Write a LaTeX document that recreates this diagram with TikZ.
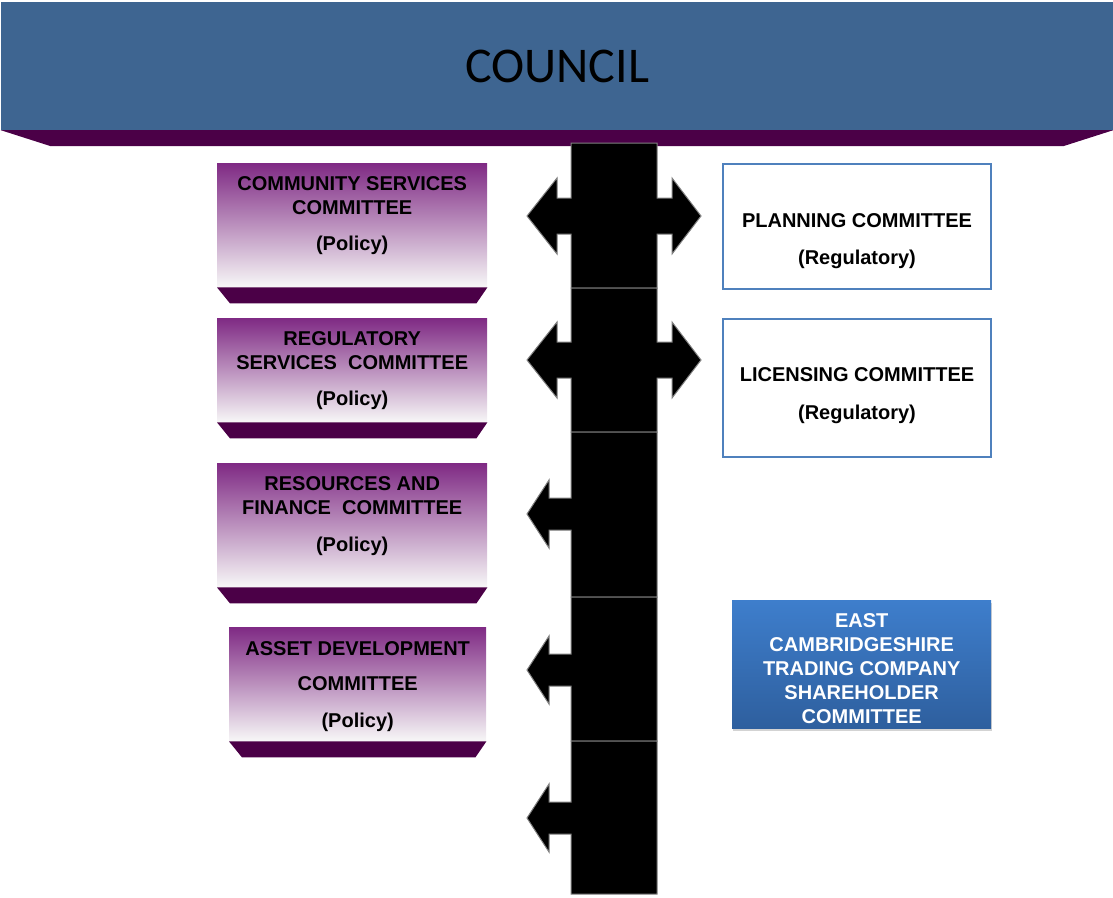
\documentclass[tikz,border=0pt]{standalone}
\usepackage{fontspec}
\setmainfont{Liberation Sans}
\newfontfamily\councilfont{Carlito}
\usepackage{tikz}
\usetikzlibrary{calc,shadows}
\definecolor{councilblue}{HTML}{3E6591}
\definecolor{plum}{HTML}{4B0047}
\definecolor{mauve}{HTML}{7F2A84}
\definecolor{lilac}{HTML}{D9CADB}
\definecolor{frame}{HTML}{4F81BD}
\definecolor{tradetop}{HTML}{3E7ECC}
\definecolor{tradebot}{HTML}{2E5F9E}
\definecolor{edge}{HTML}{808080}
\tikzset{
  council/.style={rectangle, fill=councilblue, inner sep=0pt, minimum width=1112pt, minimum height=128pt, font=\councilfont\fontsize{50}{60}\selectfont},
  band/.style={fill=plum},
  spine/.style={fill=black, draw=edge, line width=1pt, line join=miter},
  pbox/.style={rectangle, inner sep=0pt, anchor=north west, top color=mauve, middle color=lilac, bottom color=white!97!black, minimum width=270pt},
  rbox/.style={rectangle, draw=frame, line width=2pt, fill=white, inner sep=0pt, anchor=north west, minimum width=268pt},
  tbox/.style={rectangle, inner sep=0pt, anchor=north west, top color=tradetop, bottom color=tradebot, minimum width=259pt, minimum height=128pt, drop shadow={shadow xshift=1pt, shadow yshift=-3pt, opacity=0.35}},
  lab/.style={font=\fontsize{20}{24}\selectfont\bfseries, align=center, inner sep=0pt, anchor=north},
}
\begin{document}
\begin{tikzpicture}[x=1pt, y=-1pt]
  \useasboundingbox (0,0) rectangle (1113,897);
  % council bar
  \node[council] (council) at (557,66) {COUNCIL};
  \fill[band] (council.south west) -- (council.south east) -- ++(-50,16) -- ($(council.south west)+(50,16)$) -- cycle;
  % spine with arrows
  \foreach \yt/\yb/\ym in {143/288/216, 288/432/360}
    \draw[spine] (571,\yt) -- (657,\yt) -- (657,{\ym-18}) -- (672,{\ym-18}) -- (672,{\ym-38}) -- (701,\ym) -- (672,{\ym+38}) -- (672,{\ym+18}) -- (657,{\ym+18}) -- (657,\yb) -- (571,\yb) -- (571,{\ym+18}) -- (557,{\ym+18}) -- (557,{\ym+38}) -- (527,\ym) -- (557,{\ym-38}) -- (557,{\ym-18}) -- (571,{\ym-18}) -- cycle;
  \foreach \yt/\yb/\ym in {432/597/514, 597/741/670, 741/894/818}
    \draw[spine] (571,\yt) -- (657,\yt) -- (657,\yb) -- (571,\yb) -- (571,{\ym+16}) -- (549,{\ym+16}) -- (549,{\ym+34}) -- (527,\ym) -- (549,{\ym-34}) -- (549,{\ym-16}) -- (571,{\ym-16}) -- cycle;
  % policy committees
  \node[pbox, minimum height=124pt] (cs) at (217,163) {};
  \node[pbox, minimum height=104pt] (rs) at (217,318) {};
  \node[pbox, minimum height=124pt] (rf) at (217,463) {};
  \node[pbox, minimum height=114pt, minimum width=257pt] (ad) at (229,627) {};
  \foreach \b in {cs,rs,rf,ad}
    \fill[band] (\b.south west) -- (\b.south east) -- ++(-11,16) -- ($(\b.south west)+(13,16)$) -- cycle;
  \node[lab] (cs-t) at ($(cs.north)+(0,13)$) {COMMUNITY SERVICES\\COMMITTEE\\[12pt](Policy)};
  \node[lab] (rs-t) at ($(rs.north)+(0,13)$) {REGULATORY\\SERVICES\ \ COMMITTEE\\[12pt](Policy)};
  \node[lab] (rf-t) at ($(rf.north)+(0,13)$) {RESOURCES AND\\FINANCE\ \ COMMITTEE\\[13pt](Policy)};
  \node[lab] (ad-t) at ($(ad.north)+(0,14)$) {ASSET DEVELOPMENT\\[11pt]COMMITTEE\\[13pt](Policy)};
  % regulatory committees
  \node[rbox, minimum height=125pt] (plan) at (722,163) {};
  \node[rbox, minimum height=138pt] (lic) at (722,318) {};
  \node[lab] (plan-t) at ($(plan.north)+(0,50)$) {PLANNING\ COMMITTEE\\[13pt](Regulatory)};
  \node[lab] (lic-t) at ($(lic.north)+(0,49)$) {LICENSING\ COMMITTEE\\[14pt](Regulatory)};
  % trading company
  \node[tbox] (trade) at (732,600) {};
  \node[lab, text=white] (trade-t) at ($(trade.north)+(0,13)$) {EAST\\CAMBRIDGESHIRE\\TRADING\ COMPANY\\SHAREHOLDER\\COMMITTEE};
\end{tikzpicture}
\end{document}
